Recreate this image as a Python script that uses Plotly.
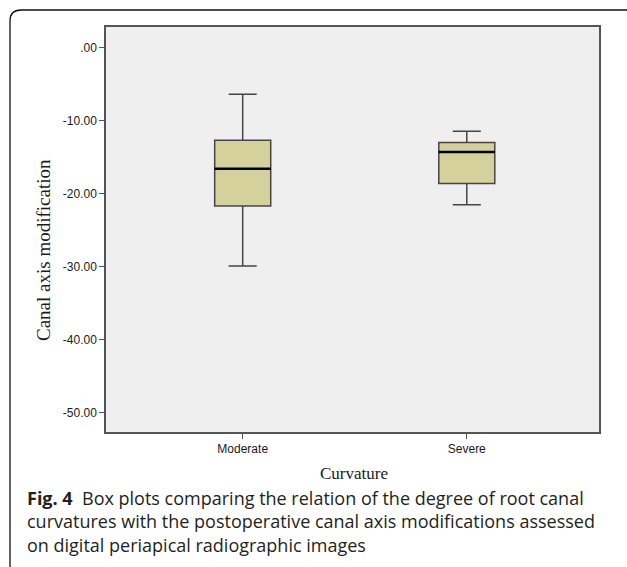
import plotly.graph_objects as go

# Data
categories = ["Moderate", "Severe"]
upper_whisker = [-6.4, -11.45]
q3_values = [-12.7, -13.0]
medians = [-16.6, -14.3]
q1_values = [-21.7, -18.6]
lower_whisker = [-29.9, -21.5]
tick_values = [0, -10, -20, -30, -40, -50]
tick_labels = [".00", "-10.00", "-20.00", "-30.00", "-40.00", "-50.00"]

W, H = 627, 567
L, R, T, B = 106, 599, 27, 432
BOX_W = 0.25


def px(x):
    return (x - L) / (R - L)


def py(y):
    return (B - y) / (B - T)


fig = go.Figure()
fig.add_trace(go.Box(
    x=categories,
    q1=q1_values, median=medians, q3=q3_values,
    lowerfence=lower_whisker, upperfence=upper_whisker,
    width=BOX_W, whiskerwidth=0.5,
    fillcolor="#d5d19c",
    line=dict(color="#454545", width=1.5),
    boxpoints=False, hoverinfo="skip", showlegend=False,
))

# Heavier black median lines as in the original
for i, m in enumerate(medians):
    fig.add_shape(type="line", xref="x", yref="y",
                  x0=i - BOX_W / 2, x1=i + BOX_W / 2, y0=m, y1=m,
                  line=dict(color="#000000", width=2.4))

tickfont = dict(family="Liberation Sans, Arial", size=12, color="#1a1a1a")
fig.update_layout(
    width=W, height=H,
    margin=dict(l=L, r=W - R, t=T, b=H - B),
    paper_bgcolor="white",
    plot_bgcolor="#efefef",
    showlegend=False,
    xaxis=dict(
        type="category", range=[-0.61, 1.59],
        showline=True, linecolor="#555555", linewidth=1.5, mirror=True,
        ticks="outside", ticklen=5, tickcolor="#555555",
        tickfont=tickfont, showgrid=False, zeroline=False,
    ),
    yaxis=dict(
        range=[-52.6, 2.8],
        tickvals=tick_values, ticktext=tick_labels,
        showline=True, linecolor="#555555", linewidth=1.5, mirror=True,
        ticks="outside", ticklen=5, tickcolor="#555555",
        tickfont=tickfont, showgrid=False, zeroline=False,
    ),
)

serif = "Liberation Serif, Times New Roman"
fig.add_annotation(text="Curvature", xref="paper", yref="paper", x=px(354), y=py(473),
                   xanchor="center", yanchor="middle", showarrow=False,
                   font=dict(family=serif, size=17, color="#1a1a1a"))
fig.add_annotation(text="Canal axis modification", xref="paper", yref="paper",
                   x=px(43), y=py(250), textangle=-90,
                   xanchor="center", yanchor="middle", showarrow=False,
                   font=dict(family=serif, size=19, color="#1a1a1a"))

# Outer rounded frame (top and left edges)
r = 11
path = (f"M {px(640)} {py(10)} L {px(10 + r)} {py(10)} "
        f"Q {px(10)} {py(10)} {px(10)} {py(10 + r)} L {px(10)} {py(580)}")
fig.add_shape(type="path", path=path, xref="paper", yref="paper",
              line=dict(color="#111111", width=1.3))

caption_lines = [
    "<b>Fig. 4</b>  Box plots comparing the relation of the degree of root canal",
    "curvatures with the postoperative canal axis modifications assessed",
    "on digital periapical radiographic images",
]
fig.add_annotation(text="<br>".join(caption_lines), xref="paper", yref="paper",
                   x=px(25), y=py(521), xanchor="left", yanchor="middle", align="left",
                   showarrow=False,
                   font=dict(family="Open Sans", size=18, color="#231f20"))

fig.write_html("out.html", config={"displayModeBar": False},
               post_script="document.body.style.margin='0';")
